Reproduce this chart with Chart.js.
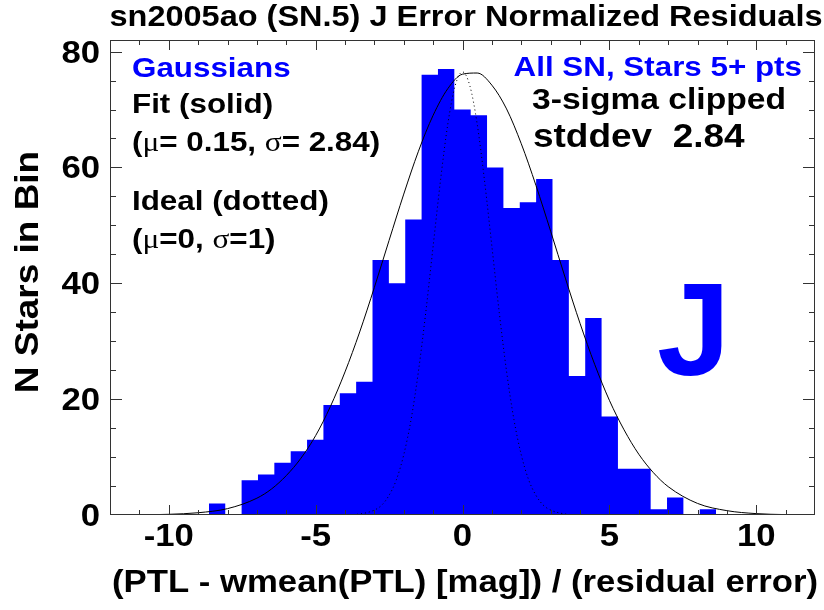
<!DOCTYPE html>
<html>
<head>
<meta charset="utf-8">
<title>sn2005ao J residuals</title>
<script src="https://cdn.jsdelivr.net/npm/chart.js@4.4.1/dist/chart.umd.min.js"></script>
<style>
  html, body { margin: 0; padding: 0; background: #fff; }
  #wrap { width: 824px; height: 610px; }
</style>
</head>
<body>
<div id="wrap"><canvas id="histChart" width="824" height="610"></canvas></div>
<script>
// histogram bins (centres, in units of residual error) and star counts
const binWidth = 0.557;
const binCenters = [-8.355, -7.798, -7.241, -6.684, -6.127, -5.570, -5.013, -4.456, -3.899, -3.342, -2.785,
                    -2.228, -1.671, -1.114, -0.557, 0.000, 0.557, 1.114, 1.671, 2.228, 2.785, 3.342,
                    3.899, 4.456, 5.013, 5.570, 6.127, 6.684, 7.241, 7.798, 8.355];
const binCounts = [2, 0, 6, 7, 9, 11, 13, 19, 21, 23, 44, 40, 51, 76, 77, 70, 69, 60, 53, 54, 58, 44,
                   24, 34, 17, 8, 8, 1, 3, 0, 1];

// fitted gaussian (solid)
const fitX = [-12, -11, -10, -9, -8, -7, -6.5, -6, -5.5, -5, -4.5, -4, -3.5, -3, -2.5, -2, -1.5, -1, -0.5,
              0, 0.5, 1, 1.5, 2, 2.5, 3, 3.5, 4, 4.5, 5, 5.5, 6, 6.5, 7, 8, 9, 10, 11, 12];
const fitY = [0.0, 0.03, 0.12, 0.39, 1.1, 2.9, 4.5, 6.8, 9.8, 13.7, 18.7, 24.7, 31.6, 39.3, 47.4, 55.4, 62.8,
              69.0, 73.6, 76.1, 76.3, 74.2, 70.1, 64.1, 56.9, 49.0, 40.9, 33.1, 26.0, 19.8, 14.7, 10.5,
              7.3, 4.9, 2.0, 0.75, 0.24, 0.07, 0.02];

// ideal unit gaussian (dotted)
const idealX = [-4, -3.5, -3, -2.75, -2.5, -2.25, -2, -1.75, -1.5, -1.25, -1, -0.75, -0.5, -0.25, 0,
                0.25, 0.5, 0.75, 1, 1.25, 1.5, 1.75, 2, 2.25, 2.5, 2.75, 3, 3.5, 4];
const idealY = [0.03, 0.17, 0.85, 1.7, 3.4, 6.1, 10.4, 16.5, 24.8, 35.0, 46.4, 57.7, 67.5, 74.1, 76.5,
                74.1, 67.5, 57.7, 46.4, 35.0, 24.8, 16.5, 10.4, 6.1, 3.4, 1.7, 0.85, 0.17, 0.03];

// axis tick labels
const xTickLabels = [-10, -5, 0, 5, 10];
const yTickLabels = [0, 20, 40, 60, 80];

const FONT = '"Liberation Sans", Arial, Helvetica, sans-serif';
const SYMBOL_FONT = '"Liberation Serif", "DejaVu Serif", serif';
const BLUE = '#0000ff';
const STRETCH = 1.12;

// stepped outline of the histogram: one point at each bin's left edge, plus the last right edge
const histPoints = binCenters.map((c, i) => ({ x: c - binWidth / 2, y: binCounts[i] }));
histPoints.push({ x: binCenters[binCenters.length - 1] + binWidth / 2, y: binCounts[binCounts.length - 1] });

const fitPoints = fitX.map((x, i) => ({ x: x, y: fitY[i] }));
const idealPoints = idealX.map((x, i) => ({ x: x, y: idealY[i] }));

// draws a run of text pieces; each piece is [text, useSymbolFont]
function drawParts(ctx, parts, x, y, size, color, align) {
    const fonts = parts.map(p => p[1] ? `${size}px ${SYMBOL_FONT}` : `bold ${size}px ${FONT}`);
    let total = 0;
    parts.forEach((p, i) => { ctx.font = fonts[i]; total += ctx.measureText(p[0]).width; });
    let x0 = x;
    if (align === 'right') x0 = x - total * STRETCH;
    if (align === 'center') x0 = x - total * STRETCH / 2;
    ctx.save();
    ctx.translate(x0, y);
    ctx.scale(STRETCH, 1);
    ctx.fillStyle = color;
    ctx.textBaseline = 'alphabetic';
    ctx.textAlign = 'left';
    let cx = 0;
    parts.forEach((p, i) => {
        ctx.font = fonts[i];
        ctx.fillText(p[0], cx, 0);
        cx += ctx.measureText(p[0]).width;
    });
    ctx.restore();
}

const framePlugin = {
    id: 'frame',
    afterDatasetsDraw(chart) {
        const ctx = chart.ctx;
        const area = chart.chartArea;
        const xs = chart.scales.x;
        const ys = chart.scales.y;

        ctx.save();
        ctx.strokeStyle = '#333';
        ctx.lineWidth = 1;
        ctx.strokeRect(area.left + 0.5, area.top + 0.5, area.right - area.left - 1, area.bottom - area.top - 1);

        // inward ticks on all four sides
        ctx.beginPath();
        for (let v = xs.min + 1; v < xs.max; v++) {
            const px = Math.round(xs.getPixelForValue(v)) + 0.5;
            const len = v % 5 === 0 ? 10 : 5;
            ctx.moveTo(px, area.bottom); ctx.lineTo(px, area.bottom - len);
            ctx.moveTo(px, area.top); ctx.lineTo(px, area.top + len);
        }
        for (let v = 5; v < ys.max; v += 5) {
            const py = Math.round(ys.getPixelForValue(v)) + 0.5;
            const len = v % 20 === 0 ? 12 : 6;
            ctx.moveTo(area.left, py); ctx.lineTo(area.left + len, py);
            ctx.moveTo(area.right, py); ctx.lineTo(area.right - len, py);
        }
        ctx.stroke();
        ctx.restore();

        // tick labels
        xTickLabels.forEach(v => {
            drawParts(ctx, [[String(v), false]], xs.getPixelForValue(v), 546, 31, '#000', 'center');
        });
        yTickLabels.forEach(v => {
            drawParts(ctx, [[String(v), false]], 100, ys.getPixelForValue(v) + 11, 31, '#000', 'right');
        });

        // titles
        drawParts(ctx, [['sn2005ao (SN.5) J Error Normalized Residuals', false]], 466, 26, 29, '#000', 'center');
        drawParts(ctx, [['(PTL - wmean(PTL) [mag]) / (residual error)', false]], 465, 592, 31, '#000', 'center');
        ctx.save();
        ctx.translate(38, 272);
        ctx.rotate(-Math.PI / 2);
        drawParts(ctx, [['N Stars in Bin', false]], 0, 0, 33, '#000', 'center');
        ctx.restore();

        // annotations, left block
        drawParts(ctx, [['Gaussians', false]], 132, 77, 28, BLUE, 'left');
        drawParts(ctx, [['Fit (solid)', false]], 132, 113, 28, '#000', 'left');
        drawParts(ctx, [['(', false], ['\u03bc', true], ['= 0.15, ', false], ['\u03c3', true], ['= 2.84)', false]],
                  132, 151, 28, '#000', 'left');
        drawParts(ctx, [['Ideal (dotted)', false]], 132, 210, 28, '#000', 'left');
        drawParts(ctx, [['(', false], ['\u03bc', true], ['=0, ', false], ['\u03c3', true], ['=1)', false]],
                  132, 248, 28, '#000', 'left');

        // annotations, right block
        drawParts(ctx, [['All SN, Stars 5+ pts', false]], 802, 76, 28, BLUE, 'right');
        drawParts(ctx, [['3-sigma clipped', false]], 532, 109, 30, '#000', 'left');
        drawParts(ctx, [['stddev  2.84', false]], 533, 147, 33, '#000', 'left');

        // band letter
        ctx.save();
        ctx.font = `bold 132px ${FONT}`;
        ctx.fillStyle = BLUE;
        ctx.textBaseline = 'alphabetic';
        ctx.textAlign = 'left';
        ctx.fillText('J', 657, 375);
        ctx.restore();
    }
};

new Chart(document.getElementById('histChart'), {
    type: 'line',
    data: {
        datasets: [
            {
                label: 'Fit',
                data: fitPoints,
                borderColor: '#000',
                borderWidth: 1,
                pointRadius: 0,
                fill: false,
                cubicInterpolationMode: 'monotone',
                order: 1
            },
            {
                label: 'Ideal',
                data: idealPoints,
                borderColor: '#000',
                borderWidth: 1,
                borderDash: [1, 3],
                pointRadius: 0,
                fill: false,
                cubicInterpolationMode: 'monotone',
                order: 2
            },
            {
                label: 'N stars',
                data: histPoints,
                stepped: 'before',
                backgroundColor: BLUE,
                borderColor: BLUE,
                borderWidth: 0,
                pointRadius: 0,
                fill: 'origin',
                order: 3
            }
        ]
    },
    options: {
        responsive: false,
        animation: false,
        devicePixelRatio: 1,
        layout: { padding: { top: 40, right: 9, left: 0, bottom: 0 } },
        plugins: {
            legend: { display: false },
            tooltip: { enabled: false },
            title: { display: false }
        },
        scales: {
            x: {
                type: 'linear',
                min: -12,
                max: 12,
                grid: { display: false },
                border: { display: false },
                ticks: { display: false },
                afterFit(scale) { scale.height = 95; }
            },
            y: {
                type: 'linear',
                min: 0,
                max: 82,
                grid: { display: false },
                border: { display: false },
                ticks: { display: false },
                afterFit(scale) { scale.width = 110; }
            }
        }
    },
    plugins: [framePlugin]
});
</script>
</body>
</html>
